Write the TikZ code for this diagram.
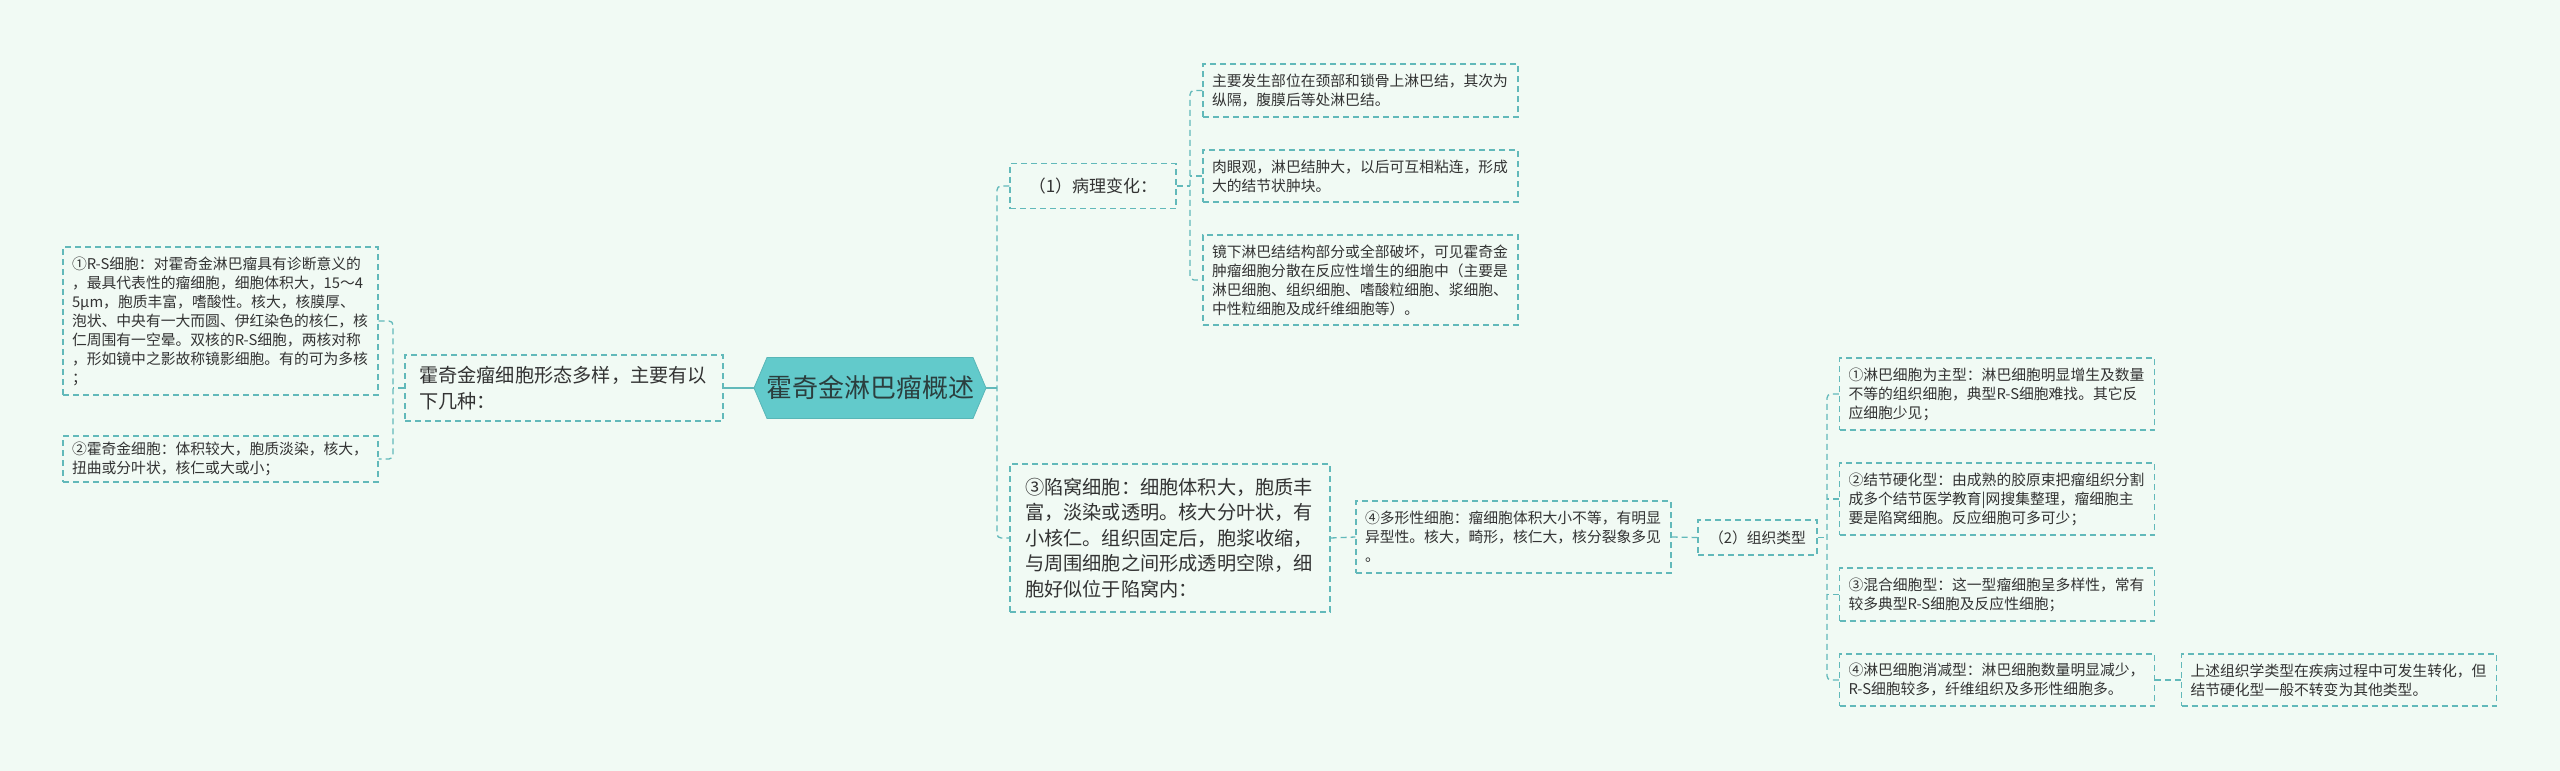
\documentclass[tikz,border=0pt]{standalone}
\usepackage{fontspec}
\setmainfont{Noto Sans CJK SC}
\definecolor{bgc}{HTML}{F1FAF4}
\definecolor{linec}{HTML}{62B9BA}
\definecolor{rootc}{HTML}{62CACB}
\definecolor{txt}{HTML}{333333}
\tikzset{
  box/.style={draw=linec,line width=1.2pt,dash pattern=on 6pt off 4pt,align=left,text=txt,inner ysep=3pt},
  leaf/.style={box,inner xsep=9pt,text width=297pt,font=\fontsize{14.8}{19}\selectfont},
  big/.style={box,font=\fontsize{19.2}{25.5}\selectfont},
  conn/.style={draw=linec,line width=1.3pt,dash pattern=on 6pt off 4pt,rounded corners=4pt},
  link/.style={draw=linec,line width=1.6pt}
}
\begin{document}
\begin{tikzpicture}[x=1pt,y=-1pt]
\fill[bgc] (0,0) rectangle (2560,771);
\useasboundingbox (0,0) rectangle (2560,771);
% centre
\coordinate (rootL) at (754,388);
\coordinate (rootR) at (986,388);
\fill[rootc,draw=rootc!90!black,line width=0.8pt] (rootL) -- (767,357.5) -- (973,357.5) -- (rootR) -- (973,418.5) -- (767,418.5) -- cycle;
\node[inner sep=0pt,font=\fontsize{26}{30}\selectfont,text=txt!85!teal] (root) at (870,388) {霍奇金淋巴瘤概述};
% left side
\node[big,text width=290pt,inner xsep=14pt,minimum height=66pt] (forms) at (564,388)
  {霍奇金瘤细胞形态多样，主要有以\\下几种：};
\node[leaf,minimum height=148pt] (rs) at (220.5,321)
  {①R-S细胞：对霍奇金淋巴瘤具有诊断意义的\\，最具代表性的瘤细胞，细胞体积大，15～4\\5μm，胞质丰富，嗜酸性。核大，核膜厚、\\泡状、中央有一大而圆、伊红染色的核仁，核\\仁周围有一空晕。双核的R-S细胞，两核对称\\，形如镜中之影故称镜影细胞。有的可为多核\\；};
\node[leaf,minimum height=46pt] (hod) at (220.5,459)
  {②霍奇金细胞：体积较大，胞质淡染，核大，\\扭曲或分叶状，核仁或大或小；};
% pathology
\node[box,font=\fontsize{17}{21}\selectfont,minimum width=166pt,minimum height=45pt] (patho) at (1093,186) {（1）病理变化：};
\node[leaf,minimum height=53pt] (site) at (1360.5,90.5)
  {主要发生部位在颈部和锁骨上淋巴结，其次为\\纵隔，腹膜后等处淋巴结。};
\node[leaf,minimum height=52pt] (gross) at (1360.5,176)
  {肉眼观，淋巴结肿大，以后可互相粘连，形成\\大的结节状肿块。};
\node[leaf,minimum height=90pt] (micro) at (1360.5,280)
  {镜下淋巴结结构部分或全部破坏，可见霍奇金\\肿瘤细胞分散在反应性增生的细胞中（主要是\\淋巴细胞、组织细胞、嗜酸粒细胞、浆细胞、\\中性粒细胞及成纤维细胞等）。};
% lacunar chain
\node[big,text width=290pt,inner xsep=15pt,minimum height=148pt] (lac) at (1170,538)
  {③陷窝细胞：细胞体积大，胞质丰\\富，淡染或透明。核大分叶状，有\\小核仁。组织固定后，胞浆收缩，\\与周围细胞之间形成透明空隙，细\\胞好似位于陷窝内：};
\node[leaf,minimum height=72pt] (pleo) at (1513.5,537)
  {④多形性细胞：瘤细胞体积大小不等，有明显\\异型性。核大，畸形，核仁大，核分裂象多见\\。};
\node[box,font=\fontsize{14.8}{19}\selectfont,minimum width=119pt,minimum height=35pt] (types) at (1757.5,537.5) {（2）组织类型};
\node[leaf,minimum height=72pt] (lymph) at (1997,394)
  {①淋巴细胞为主型：淋巴细胞明显增生及数量\\不等的组织细胞，典型R-S细胞难找。其它反\\应细胞少见；};
\node[leaf,minimum height=72pt] (nod) at (1997,499)
  {②结节硬化型：由成熟的胶原束把瘤组织分割\\成多个结节医学教育|网搜集整理，瘤细胞主\\要是陷窝细胞。反应细胞可多可少；};
\node[leaf,minimum height=53pt] (mix) at (1997,594.5)
  {③混合细胞型：这一型瘤细胞呈多样性，常有\\较多典型R-S细胞及反应性细胞；};
\node[leaf,minimum height=52pt] (depl) at (1997,680)
  {④淋巴细胞消减型：淋巴细胞数量明显减少，\\R-S细胞较多，纤维组织及多形性细胞多。};
\node[leaf,minimum height=52pt] (note) at (2339,680)
  {上述组织学类型在疾病过程中可发生转化，但\\结节硬化型一般不转变为其他类型。};
% joints
\coordinate (jR) at (997,388);
\coordinate (jL) at (393,388);
\coordinate (jP) at (1190,186);
\coordinate (jT) at (1827,537.5);
% connectors
\draw[link] (rootR) -- (jR);
\draw[link] (rootL) -- (forms.east);
\draw[conn] (patho.west) -| (jR) |- (lac.west);
\draw[conn] (forms.west) -- (jL);
\draw[conn] (rs.east) -| (jL) |- (hod.east);
\draw[conn] (patho.east) -- (jP);
\draw[conn] (site.west) -| (jP) |- (micro.west);
\draw[conn] (gross.west) -- (gross.west -| jP);
\draw[conn] (lac.east) -- (pleo.west);
\draw[conn] (pleo.east) -- (types.west);
\draw[conn] (types.east) -- (jT);
\draw[conn] (lymph.west) -| (jT) |- (depl.west);
\draw[conn] (nod.west) -- (nod.west -| jT);
\draw[conn] (mix.west) -- (mix.west -| jT);
\draw[conn] (depl.east) -- (note.west);
\end{tikzpicture}
\end{document}
